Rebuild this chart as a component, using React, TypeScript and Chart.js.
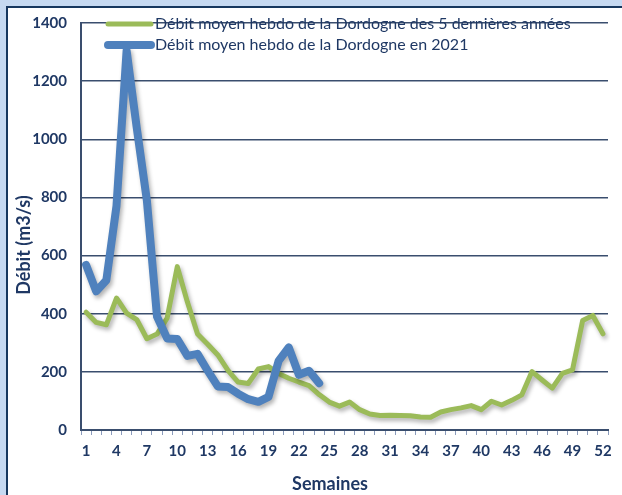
import React, { useEffect, useRef } from "react";
import { Chart, registerables } from "chart.js";

Chart.register(...registerables);

const weeks = [
  "1", "2", "3", "4", "5", "6", "7", "8", "9", "10", "11", "12", "13",
  "14", "15", "16", "17", "18", "19", "20", "21", "22", "23", "24", "25", "26",
  "27", "28", "29", "30", "31", "32", "33", "34", "35", "36", "37", "38", "39",
  "40", "41", "42", "43", "44", "45", "46", "47", "48", "49", "50", "51", "52",
];

const avg5Years = [
  405, 370, 362, 454, 402, 380, 314, 330, 385, 562, 440, 330, 295,
  258, 205, 165, 160, 210, 218, 194, 178, 165, 153, 122, 96, 82,
  96, 70, 55, 50, 51, 50, 49, 45, 44, 62, 70, 76, 84, 70,
  99, 86, 102, 121, 201, 172, 144, 195, 207, 377, 394, 331,
];

const year2021 = [
  568, 477, 515, 770, 1305, 1040, 790, 390, 315, 313, 255, 262,
  204, 150, 148, 125, 106, 97, 114, 238, 284, 190, 204, 161,
];

const yTicks = [0, 200, 400, 600, 800, 1000, 1200, 1400];

const labelAvg = "Débit moyen hebdo de la Dordogne des 5 dernières années";
const label2021 = "Débit moyen hebdo de la Dordogne en 2021";
const yTitle = "Débit (m3/s)";
const xTitle = "Semaines";

const TEXT = "#1f3864";
const GRID = "#3a4e6e";
const GREEN = "#9bbb59";
const BLUE = "#4f81bd";
const FONT = "Lato, 'Liberation Sans', sans-serif";

const shadowPlugin = {
  id: "lineShadow",
  beforeDatasetDraw(chart: any) {
    const ctx = chart.ctx;
    ctx.save();
    ctx.shadowColor = "rgba(0,0,0,0.30)";
    ctx.shadowBlur = 4;
    ctx.shadowOffsetX = 2;
    ctx.shadowOffsetY = 3;
  },
  afterDatasetDraw(chart: any) {
    chart.ctx.restore();
  },
};

const overlayPlugin = {
  id: "overlay",
  afterDraw(chart: any) {
    const ctx = chart.ctx;
    ctx.save();
    const rows = [
      { ds: chart.data.datasets[0], y: 24 },
      { ds: chart.data.datasets[1], y: 45 },
    ];
    rows.forEach(({ ds, y }) => {
      ctx.strokeStyle = ds.borderColor;
      ctx.lineWidth = ds.borderWidth;
      ctx.lineCap = "round";
      ctx.beginPath();
      ctx.moveTo(108, y);
      ctx.lineTo(151, y);
      ctx.stroke();
      ctx.fillStyle = TEXT;
      ctx.font = `16px ${FONT}`;
      ctx.textBaseline = "middle";
      ctx.textAlign = "left";
      ctx.fillText(ds.label, 155, y);
    });
    // axis titles
    ctx.font = `bold 18px ${FONT}`;
    ctx.fillStyle = TEXT;
    ctx.textAlign = "center";
    ctx.textBaseline = "middle";
    ctx.fillText(xTitle, 330, 484);
    ctx.translate(24, 245);
    ctx.rotate(-Math.PI / 2);
    ctx.fillText(yTitle, 0, 0);
    ctx.restore();
  },
};

export default function App() {
  const ref = useRef<HTMLCanvasElement | null>(null);

  useEffect(() => {
    if (!ref.current) return;
    const chart = new Chart(ref.current, {
      type: "line",
      data: {
        labels: weeks,
        datasets: [
          {
            label: labelAvg,
            data: avg5Years,
            borderColor: GREEN,
            backgroundColor: GREEN,
            borderWidth: 5,
            pointRadius: 0,
            tension: 0,
            borderJoinStyle: "round",
            borderCapStyle: "round",
            order: 1,
          },
          {
            label: label2021,
            data: year2021,
            borderColor: BLUE,
            backgroundColor: BLUE,
            borderWidth: 8,
            pointRadius: 0,
            tension: 0,
            borderJoinStyle: "round",
            borderCapStyle: "round",
            order: 0,
          },
        ],
      },
      options: {
        responsive: false,
        animation: false,
        devicePixelRatio: 1,
        layout: { padding: { left: 0, right: 14, top: 19, bottom: 0 } },
        plugins: {
          legend: { display: false },
          tooltip: { enabled: false },
        },
        scales: {
          x: {
            type: "category",
            offset: true,
            afterFit: (s: any) => {
              s.height = 65;
            },
            grid: {
              offset: true,
              drawOnChartArea: false,
              drawTicks: true,
              tickLength: 5,
              color: "#8c9cbc",
            },
            border: { color: GRID, width: 2 },
            ticks: {
              autoSkip: false,
              maxRotation: 0,
              padding: 7,
              color: TEXT,
              font: { family: FONT, size: 15, weight: "bold" },
              callback: (_v: any, i: number) => (i % 3 === 0 ? weeks[i] : ""),
            },
          },
          y: {
            min: 0,
            max: 1400,
            afterFit: (s: any) => {
              s.width = 81;
            },
            afterBuildTicks: (s: any) => {
              s.ticks = yTicks.map((v) => ({ value: v }));
            },
            grid: {
              color: GRID,
              lineWidth: 1.5,
              drawTicks: false,
            },
            border: { color: GRID, width: 2 },
            ticks: {
              padding: 14,
              color: TEXT,
              font: { family: FONT, size: 15, weight: "bold" },
              callback: (v: any) => String(v),
            },
          },
        },
      },
      plugins: [shadowPlugin, overlayPlugin],
    } as any);
    return () => chart.destroy();
  }, []);

  return (
    <div
      style={{
        position: "fixed",
        left: 0,
        top: 0,
        width: 622,
        height: 495,
        background: "#c6d9f1",
        overflow: "hidden",
      }}
    >
      <div
        style={{
          position: "absolute",
          left: 6,
          top: 6,
          right: 0,
          bottom: 0,
          background: "#ffffff",
          borderLeft: "2px solid #17375e",
          borderTop: "2px solid #17375e",
        }}
      />
      <canvas
        ref={ref}
        width={622}
        height={495}
        style={{ position: "absolute", left: 0, top: 0, width: 622, height: 495 }}
      />
    </div>
  );
}
